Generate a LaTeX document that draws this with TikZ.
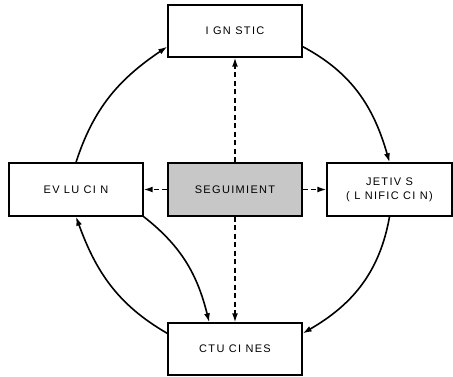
\documentclass[tikz,border=0pt]{standalone}
\usepackage{fontspec}
\setmainfont{Liberation Sans}[LetterSpace=12]
\usetikzlibrary{arrows.meta}
\begin{document}
\begin{tikzpicture}[>={Latex[length=9pt, width=6pt]}, x=1pt, y=1pt]
    \tikzset{caja/.style={draw, line width=1.4pt, minimum width=134pt, minimum height=52pt, inner sep=0pt, font=\fontsize{11}{14}\selectfont, align=center},
             flecha/.style={->, line width=1.6pt},
             trazo/.style={->, line width=1.5pt, dash pattern=on 5pt off 3.5pt}}
    \useasboundingbox (0,0) rectangle (453,377);
    % 1. Cajas
    \node[caja] (diag) at (235,346) {I GN STIC};
    \node[caja, minimum width=134pt, minimum height=53pt] (eval) at (76,187.5) {EV LU CI N};
    \node[caja, fill=black!22, minimum height=53pt] (segu) at (235,187.5) {SEGUIMIENT};
    \node[caja, minimum width=125pt, minimum height=53pt] (obje) at (389.5,187.5) {JETIV S\\( L NIFIC CI N)};
    \node[caja] (actu) at (235,28) {CTU CI NES};
    
    % 2. Ciclo
    \draw[flecha] (eval.north) to[out=72, in=214] (diag.193);
    \draw[flecha] (diag.-13) to[out=-28, in=106] (obje.north);
    \draw[flecha] (obje.south) to[out=-100, in=30] (actu.13);
    \draw[flecha] (actu.167) to[out=150, in=-70] (eval.south);
    \draw[flecha] (eval.south east) to[out=-38, in=104] (actu.134);
    
    % 3. Seguimiento
    \draw[trazo] (segu.north) -- (diag.south);
    \draw[trazo] (segu.south) -- (actu.north);
    \draw[trazo] (segu.west) -- (eval.east);
    \draw[trazo] (segu.east) -- (obje.west);
\end{tikzpicture}
\end{document}
